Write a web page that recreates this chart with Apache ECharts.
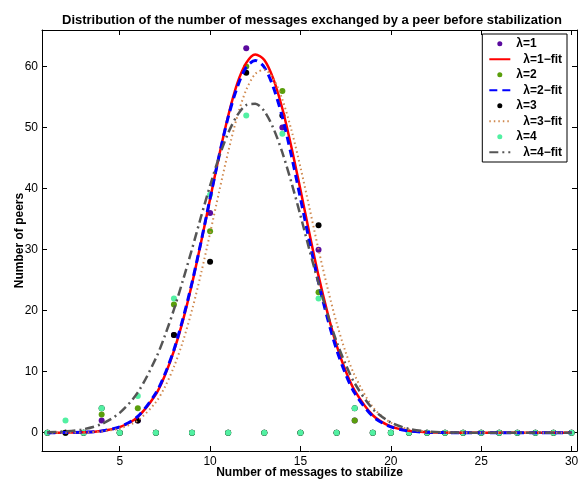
<!DOCTYPE html>
<html>
<head>
<meta charset="utf-8">
<script src="https://cdn.jsdelivr.net/npm/echarts@6/dist/echarts.min.js"></script>
<style>
  html, body { margin: 0; padding: 0; background: #fff; }
  #chart { width: 584px; height: 481px; }
</style>
</head>
<body>
<div id="chart"></div>
<script>
// integer message counts for the measured points
const counts = [1,2,3,4,5,6,7,8,9,10,11,12,13,14,15,16,17,18,19,20,21,22,23,24,25,26,27,28,29,30];
const peers1 = [0,0,0,2,0,2,0,16,0,36,0,63,0,50,0,30,0,2,0,0,0,0,0,0,0,0,0,0,0,0];
const peers2 = [0,0,0,3,0,4,0,21,0,33,0,60,0,56,0,23,0,2,0,0,0,0,0,0,0,0,0,0,0,0];
const peers3 = [0,0,0,4,0,2,0,16,0,28,0,59,0,52,0,34,0,4,0,0,0,0,0,0,0,0,0,0,0,0];
const peers4 = [0,2,0,4,0,6,0,22,0,39,0,52,0,49,0,22,0,4,0,0,0,0,0,0,0,0,0,0,0,0];

// fitted curves
const fitX = [1,2,3,4,5,6,7,7.5,8,8.5,9,9.5,10,10.5,11,11.5,12,12.5,13,13.5,14,14.5,15,15.5,16,16.5,17,17.5,18,19,20,21,22,23,24,25,26,27,28,29,30];
const fit1 = [0,0.02,0.07,0.28,0.91,2.6,6.3,9.4,13.4,18.4,24.4,31.2,38.3,45.4,51.9,57.2,60.6,62.0,61.1,58.0,53.1,46.8,39.8,32.6,25.7,19.6,14.3,10.1,6.9,2.86,1.02,0.32,0.08,0.02,0,0,0,0,0,0,0];
const fit2 = [0,0.02,0.08,0.29,0.95,2.68,6.5,9.6,13.6,18.7,24.6,31.3,38.4,45.4,51.7,56.6,59.9,61.0,59.9,56.6,51.7,45.4,38.4,31.3,24.6,18.7,13.6,9.6,6.5,2.68,0.95,0.29,0.08,0.02,0,0,0,0,0,0,0];
const fit3 = [0,0.01,0.06,0.21,0.70,2.0,5.0,7.5,10.8,15.0,20.1,26.1,32.7,39.5,46.0,51.8,56.2,58.8,59.5,58.0,54.6,49.6,43.5,36.8,30.0,23.7,18.0,13.2,9.4,4.2,1.65,0.56,0.16,0.04,0.01,0,0,0,0,0,0];
const fit4 = [0.07,0.21,0.57,1.43,3.25,6.6,12.2,15.9,20.2,25.0,30.1,35.4,40.5,45.2,49.1,52.0,53.7,53.9,52.7,49.9,45.9,41.0,35.6,29.9,24.5,19.4,14.9,11.2,8.1,3.9,1.67,0.63,0.21,0.06,0.02,0,0,0,0,0,0];

const xTicks = [5,10,15,20,25,30];
const yTicks = [0,10,20,30,40,50,60];

const names = ['λ=1','λ=1−fit','λ=2','λ=2−fit','λ=3','λ=3−fit','λ=4','λ=4−fit'];
const font = 'Liberation Sans, Arial, Helvetica, sans-serif';

const pair = (xs, ys) => xs.map((x, i) => [x, ys[i]]);

const myChart = echarts.init(document.getElementById('chart'));

const baseX = {
	type: 'value',
	min: 0.7,
	max: 30.3,
	splitLine: { show: false },
	axisLine: { onZero: false, lineStyle: { color: '#000', width: 1 } },
	axisTick: { inside: true, length: 5, customValues: xTicks, lineStyle: { color: '#000' } }
};
const baseY = {
	type: 'value',
	min: -3,
	max: 66,
	splitLine: { show: false },
	axisLine: { onZero: false, lineStyle: { color: '#000', width: 1 } },
	axisTick: { inside: true, length: 5, customValues: yTicks, lineStyle: { color: '#000' } }
};

const scatter = (name, data, color) => ({
	name: name,
	type: 'scatter',
	data: pair(counts, data),
	symbol: 'circle',
	symbolSize: 6,
	itemStyle: { color: color, opacity: 1 },
	silent: true
});
const fitLine = (name, data, color, width, type) => ({
	name: name,
	type: 'line',
	data: pair(fitX, data),
	smooth: 0.3,
	symbol: 'none',
	showSymbol: false,
	lineStyle: { color: color, width: width, type: type },
	itemStyle: { color: color },
	silent: true
});

// legend entries: dots for measurements, bare lines for fits (hide the centre dot)
const legendData = names.map((n, i) => i % 2 === 0
	? { name: n, icon: 'circle', textStyle: { padding: [0, 0, 0, 1] } }
	: { name: n, itemStyle: { color: 'rgba(0,0,0,0)', borderWidth: 0 }, textStyle: { padding: [0, 0, 0, 8] } });

const option = {
	animation: false,
	backgroundColor: '#fff',
	textStyle: { fontFamily: font },
	title: {
		text: 'Distribution of the number of messages exchanged by a peer before stabilization',
		left: 57,
		top: 9,
		textStyle: { fontFamily: font, fontSize: 13, fontWeight: 'bold', color: '#000' }
	},
	grid: { left: 42, right: 7, top: 30, bottom: 30, containLabel: false, outerBoundsMode: 'none' },
	legend: {
		orient: 'vertical',
		right: 17,
		top: 34,
		itemWidth: 21,
		itemHeight: 5,
		itemGap: 2,
		padding: [3, 5, 3, 6],
		backgroundColor: '#fff',
		borderColor: '#000',
		borderWidth: 1,
		textStyle: { fontFamily: font, fontSize: 12, fontWeight: 'bold', lineHeight: 13.5, color: '#000' },
		data: legendData
	},
	xAxis: [
		Object.assign({}, baseX, {
			position: 'bottom',
			name: 'Number of messages to stabilize',
			nameLocation: 'middle',
			nameGap: 16,
			nameMoveOverlap: false,
			nameTextStyle: { fontFamily: font, fontSize: 12, fontWeight: 'bold', color: '#000' },
			axisLabel: { customValues: xTicks, color: '#000', fontSize: 12, margin: 5 }
		}),
		Object.assign({}, baseX, { position: 'top', axisLabel: { show: false } })
	],
	yAxis: [
		Object.assign({}, baseY, {
			position: 'left',
			name: 'Number of peers',
			nameLocation: 'middle',
			nameGap: 16,
			nameMoveOverlap: false,
			nameTextStyle: { fontFamily: font, fontSize: 12, fontWeight: 'bold', color: '#000' },
			axisLabel: { customValues: yTicks, color: '#000', fontSize: 12, margin: 4 }
		}),
		Object.assign({}, baseY, { position: 'right', axisLabel: { show: false } })
	],
	series: [
		scatter(names[0], peers1, '#5a0a9e'),
		fitLine(names[1], fit1, '#ff0000', 2.5, 'solid'),
		scatter(names[2], peers2, '#5a9e0c'),
		fitLine(names[3], fit2, '#0000ff', 3, [8, 5]),
		scatter(names[4], peers3, '#000000'),
		fitLine(names[5], fit3, '#d08a50', 2, [1.5, 3]),
		scatter(names[6], peers4, '#52f0a2'),
		fitLine(names[7], fit4, '#555555', 2.5, [9, 4, 2, 4])
	]
};

myChart.setOption(option);
</script>
</body>
</html>
